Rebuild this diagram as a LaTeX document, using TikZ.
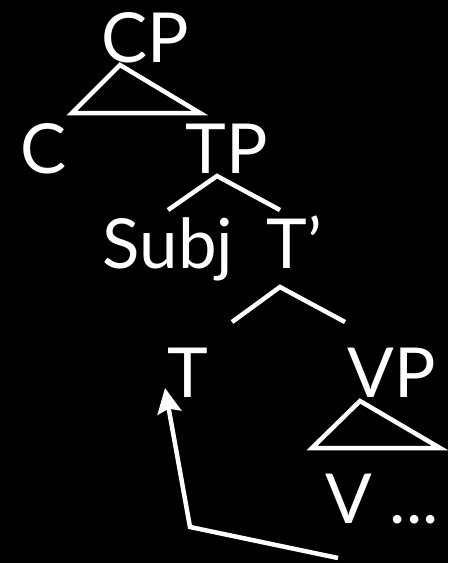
\documentclass[tikz,border=0pt]{standalone}
\usepackage{fontspec}
\setmainfont{Lato}
\usetikzlibrary{arrows.meta}

\begin{document}
\begin{tikzpicture}[
    x=1pt, y=-1pt,
    lbl/.style={text=white, inner sep=0pt, anchor=base, font=\fontsize{69}{80}\selectfont},
    branch/.style={draw=white, line width=4.5pt},
    move/.style={draw=white, line width=4.5pt, -{Stealth[length=25pt, width=24pt, inset=4pt]}},
]
\fill[black] (0,0) rectangle (448,563);
\useasboundingbox (0,0) rectangle (448,563);

% labels
\node[lbl] (cp)   at (145,62)  {CP};
\node[lbl] (c)    at (44,173)  {C};
\node[lbl] (tp)   at (227,173) {TP};
\node[lbl] (subj) at (168,268) {Subj};
\node[lbl] (tbar) at (294,268) {T’};
\node[lbl] (t)    at (188,397) {T};
\node[lbl] (vp)   at (392,397) {VP};
\node[lbl] (v)    at (382,523) {V ...};

% branch points
\coordinate (cptop) at (120,65);
\coordinate (cpl)   at (72,113);
\coordinate (cpr)   at (200,113);
\coordinate (tptop) at (217,176);
\coordinate (tpl)   at (168,210);
\coordinate (tpr)   at (280,210);
\coordinate (tbtop) at (280,287);
\coordinate (tbl)   at (232,322);
\coordinate (tbr)   at (345,322);
\coordinate (vptop) at (360,401);
\coordinate (vpl)   at (312,448);
\coordinate (vpr)   at (440,448);
\coordinate (trace) at (338,558);
\coordinate (bend)  at (190,527);
\coordinate (goal)  at (165,388);

% tree
\draw[branch] (cptop) -- (cpl) -- (cpr) -- cycle;
\draw[branch] (tpl) -- (tptop) -- (tpr);
\draw[branch] (tbl) -- (tbtop) -- (tbr);
\draw[branch] (vptop) -- (vpl) -- (vpr) -- cycle;

% head movement
\draw[move] (trace) -- (bend) -- (goal);
\end{tikzpicture}
\end{document}
